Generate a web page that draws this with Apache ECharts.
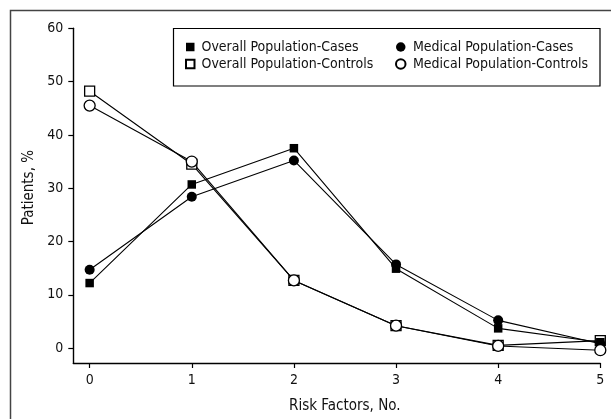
<!DOCTYPE html>
<html>
<head>
<meta charset="utf-8">
<script src="https://cdn.jsdelivr.net/npm/echarts@6/dist/echarts.min.js"></script>
<style>
html,body{margin:0;padding:0;background:#fff;}
#c{width:611px;height:419px;}
</style>
</head>
<body>
<div id="c"></div>
<script>
var riskFactors = [0, 1, 2, 3, 4, 5];
var overallCases = [12.2, 30.7, 37.5, 14.9, 3.7, 1.1];
var medicalCases = [14.7, 28.4, 35.2, 15.7, 5.2, 0.8];
var overallControls = [48.2, 34.5, 12.7, 4.2, 0.5, 1.4];
var medicalControls = [45.5, 35.0, 12.7, 4.2, 0.4, -0.4];
var xTicks = [0, 1, 2, 3, 4, 5];
var yTicks = [0, 10, 20, 30, 40, 50, 60];
var seriesNames = ['Overall Population-Cases', 'Medical Population-Cases', 'Overall Population-Controls', 'Medical Population-Controls'];

var FONT = '"DejaVu Sans Condensed", "DejaVu Sans", sans-serif';
function pairs(vals){ return riskFactors.map(function(x,i){ return [x, vals[i]]; }); }

var chart = echarts.init(document.getElementById('c'), null, {renderer:'canvas'});
function mk(name, vals, symbol, size, filled){
  return {
    name: name, type:'line', data: pairs(vals),
    symbol: symbol, symbolSize: size,
    lineStyle: {color:'#000', width:1.1},
    itemStyle: {color: filled ? '#000' : '#fff', borderColor:'#000', borderWidth: filled ? 0 : 1.3, opacity:1},
    emphasis:{disabled:true}, animation:false
  };
}
var legendText = {fontFamily:FONT, fontSize:14, color:'#111', lineHeight:14};
chart.setOption({
  backgroundColor:'#fff',
  animation:false,
  textStyle:{fontFamily:FONT},
  grid:{left:73.3, top:28.3, width:527, height:335, containLabel:false},
  xAxis:{
    type:'value', min:-0.16, max:5,
    name:'Risk Factors, No.', nameLocation:'middle', nameGap:36,
    nameTextStyle:{fontFamily:FONT, fontSize:15, color:'#111', padding:[0,0,0,16]},
    splitLine:{show:false},
    axisLine:{show:true, onZero:false, lineStyle:{color:'#000', width:1.4}},
    axisTick:{show:true, length:5, customValues:xTicks, lineStyle:{color:'#000', width:1.2}},
    axisLabel:{customValues:xTicks, fontFamily:FONT, fontSize:14, color:'#111', margin:10}
  },
  yAxis:{
    type:'value', min:-2.8, max:60,
    name:'Patients, %', nameLocation:'middle', nameGap:37, nameRotate:90,
    nameTextStyle:{fontFamily:FONT, fontSize:15, color:'#111', padding:[0,0,0,16]},
    splitLine:{show:false},
    axisLine:{show:true, onZero:false, lineStyle:{color:'#000', width:1.4}},
    axisTick:{show:true, length:5, customValues:yTicks, lineStyle:{color:'#000', width:1.2}},
    axisLabel:{customValues:yTicks, fontFamily:FONT, fontSize:14, color:'#111', margin:10}
  },
  legend:[
    {data:[{name:seriesNames[0], icon:'rect'}, {name:seriesNames[2], icon:'rect'}],
     orient:'vertical', left:185, top:40, padding:0,
     itemWidth:8.5, itemHeight:8.5, itemGap:3, selectedMode:false,
     textStyle:Object.assign({padding:[0,0,0,2]}, legendText)},
    {data:[{name:seriesNames[1], icon:'circle'}, {name:seriesNames[3], icon:'circle'}],
     orient:'vertical', left:395, top:40, padding:0,
     itemWidth:9.5, itemHeight:9.5, itemGap:3, selectedMode:false,
     textStyle:Object.assign({padding:[0,0,0,2.5]}, legendText)}
  ],
  graphic:[
    {type:'rect', shape:{x:10.5, y:10.5, width:700, height:500}, style:{fill:null, stroke:'#444', lineWidth:1.5}, silent:true},
    {type:'rect', shape:{x:173.5, y:28.5, width:426.5, height:57.5}, style:{fill:'#fff', stroke:'#000', lineWidth:1.2}, silent:true, z:-1}
  ],
  series:[
    mk(seriesNames[2], overallControls, 'rect', 10, false),
    mk(seriesNames[0], overallCases, 'rect', 8.5, true),
    mk(seriesNames[1], medicalCases, 'circle', 10, true),
    mk(seriesNames[3], medicalControls, 'circle', 11, false)
  ]
});
</script>
</body>
</html>
